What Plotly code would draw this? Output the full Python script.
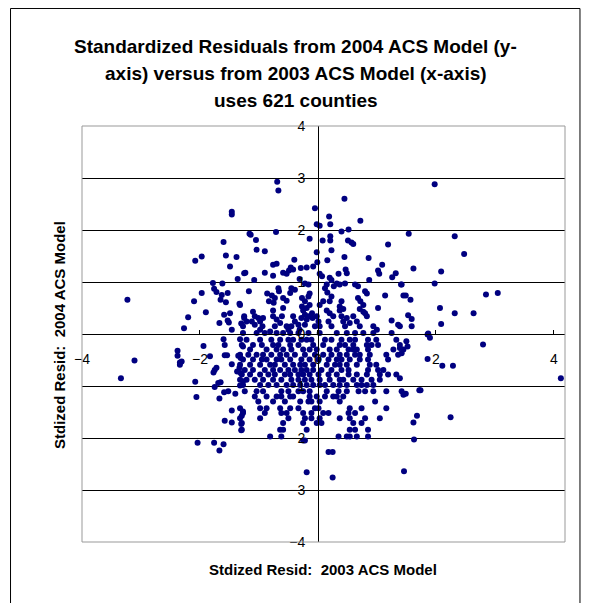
import plotly.graph_objects as go

title_lines = [
    "Standardized Residuals from 2004 ACS Model (y-",
    "axis) versus from 2003 ACS Model (x-axis)",
    "uses 621 counties",
]
x_title = "Stdized Resid:  2003 ACS Model"
y_title = "Stdized Resid:  2004 ACS Model"

x_ticks = [-4, -2, 0, 2, 4]
y_ticks = [4, 3, 2, 1, 0, -1, -2, -3, -4]

# (2003 resid, 2004 resid) pairs, by region
upper_left = [
    (-1.46, 2.35), (-1.46, 2.30), (-1.60, 1.77), (-2.08, 1.41), (-1.97, 1.49), (-1.56, 1.51),
    (-1.38, 1.48), (-1.49, 1.30), (-1.25, 1.17), (-1.36, 1.06), (-1.78, 0.98), (-1.62, 0.97),
    (-1.76, 0.87), (-1.72, 0.81), (-1.53, 0.79), (-1.63, 0.75), (-1.65, 0.66), (-1.97, 0.79),
    (-2.10, 0.63), (-1.56, 0.61), (-1.33, 0.58), (-3.23, 0.66), (-1.90, 0.42), (-1.59, 0.37),
    (-1.49, 0.40), (-2.20, 0.32), (-1.67, 0.21), (-1.53, 0.26), (-1.51, 0.22), (-2.27, 0.11),
    (-1.46, 0.08), (-1.30, 0.20), (-1.27, 0.15), (-1.25, 0.31),
]

upper_centre = [
    (-0.69, 2.93), (-0.67, 2.76), (0.45, 2.60), (-0.05, 2.42), (0.19, 2.26), (0.72, 2.18),
    (-0.02, 2.11), (0.03, 2.08), (0.21, 2.11), (-0.71, 1.96), (0.40, 1.97), (0.52, 2.01),
    (-1.16, 1.93), (-1.14, 1.91), (-1.05, 1.81), (-0.14, 1.83), (0.08, 1.80), (0.21, 1.88),
    (0.21, 1.80), (0.51, 1.80), (0.57, 1.76), (0.60, 1.73), (1.19, 1.72), (-1.04, 1.62),
    (-0.90, 1.59), (-0.02, 1.57), (0.23, 1.61), (0.45, 1.48), (0.86, 1.46), (-0.40, 1.43),
    (0.16, 1.42), (-0.01, 1.38), (1.09, 1.33), (-0.76, 1.33), (-0.70, 1.35), (-0.08, 1.30),
    (-0.29, 1.27), (-0.19, 1.28), (-0.46, 1.28), (-0.42, 1.24), (-0.49, 1.22), (-0.59, 1.18),
    (-0.53, 1.16), (-1.23, 1.18), (-0.90, 1.18), (-0.76, 1.12), (-1.08, 1.04), (-0.31, 1.06),
    (0.03, 1.16), (0.07, 1.11), (0.47, 1.24), (0.49, 1.17), (0.35, 1.16), (1.02, 1.22),
    (1.04, 1.16), (1.32, 1.17), (1.26, 1.09), (0.20, 1.08), (0.23, 1.04), (0.87, 1.04),
    (1.42, 0.95), (0.63, 0.95), (0.68, 0.92), (0.32, 0.97), (0.37, 0.95), (0.46, 0.97),
    (0.15, 0.95), (-0.22, 0.97), (-0.16, 0.95), (-1.17, 0.82), (-0.67, 0.88), (-0.66, 0.82),
    (-0.45, 0.88), (-0.39, 0.85), (-0.47, 0.79), (-0.14, 0.78), (-0.16, 0.72), (0.12, 0.88),
    (0.16, 0.80), (0.27, 0.92), (0.23, 0.72), (0.20, 0.63), (0.80, 0.82), (0.83, 0.78),
    (1.14, 0.74), (1.45, 0.74), (-0.86, 0.78), (-0.78, 0.74), (-0.73, 0.69), (-0.83, 0.63),
    (-0.75, 0.60), (-0.59, 0.69), (-0.53, 0.64), (-0.27, 0.69), (-0.22, 0.63), (-0.14, 0.56),
    (-0.19, 0.50), (-0.27, 0.53), (0.03, 0.56), (0.09, 0.63), (0.37, 0.53), (0.43, 0.48),
    (0.40, 0.63), (0.68, 0.69), (0.72, 0.63), (0.77, 0.56), (0.80, 0.40), (0.83, 0.34),
    (1.02, 0.50), (1.25, 0.26), (1.36, 0.18), (-1.32, 0.56), (-1.25, 0.34), (-1.21, 0.24),
    (-1.10, 0.43), (-1.07, 0.34), (-1.01, 0.31), (-0.98, 0.24), (-1.12, 0.24), (-1.07, 0.18),
    (-0.93, 0.31), (-0.94, 0.15), (-0.98, 0.08), (-0.76, 0.45), (-0.76, 0.34), (-0.70, 0.28),
    (-0.64, 0.21), (-0.73, 0.15), (-0.81, 0.05), (-0.59, 0.50), (-0.61, 0.34), (-0.53, 0.15),
    (-0.50, 0.08), (-0.42, 0.34), (-0.39, 0.24), (-0.33, 0.18), (-0.31, 0.08), (-0.45, 0.15),
    (-0.25, 0.45), (-0.22, 0.37), (-0.19, 0.28), (-0.22, 0.18), (-0.16, 0.34), (-0.28, 0.31),
    (-0.10, 0.40), (-0.09, 0.31), (-0.02, 0.34), (0.01, 0.24), (-0.05, 0.15), (0.03, 0.15),
    (0.15, 0.45), (0.20, 0.40), (0.18, 0.24), (0.26, 0.34), (0.23, 0.15), (0.37, 0.45),
    (0.40, 0.34), (0.43, 0.24), (0.49, 0.31), (0.54, 0.21), (0.46, 0.15), (0.60, 0.34),
    (0.66, 0.24), (0.71, 0.15), (0.94, 0.15), (1.00, 0.08), (0.71, 0.48), (0.77, 0.43),
]

upper_right = [
    (1.98, 2.88), (1.54, 1.93), (2.32, 1.88), (2.48, 1.54), (1.62, 1.26), (2.09, 1.20),
    (1.41, 0.95), (1.98, 0.97), (1.49, 0.74), (1.57, 0.66), (2.85, 0.76), (3.05, 0.79),
    (2.07, 0.50), (2.32, 0.40), (2.64, 0.40), (1.53, 0.36), (1.59, 0.29), (2.09, 0.19),
    (1.59, 0.15), (1.39, 0.15), (1.87, 0.01),
]

lower_left = [
    (-3.34, -0.85), (-3.11, -0.51), (-2.38, -0.32), (-2.38, -0.42), (-2.34, -0.55), (-2.31, -0.53),
    (-2.34, -0.59), (-1.94, -0.23), (-1.83, -0.43), (-2.08, -0.92), (-2.06, -1.21), (-1.60, -0.10),
    (-1.58, -0.21), (-1.58, -0.41), (-1.54, -0.41), (-1.75, -0.69), (-1.72, -0.65), (-1.77, -0.74),
    (-1.46, -0.58), (-1.35, -0.42), (-1.31, -0.46), (-1.27, -0.24), (-1.32, -0.10), (-1.37, -0.72),
    (-1.31, -0.75), (-1.33, -0.65), (-1.27, -0.91), (-1.75, -1.02), (-1.69, -0.94), (-1.65, -0.93),
    (-1.59, -1.12), (-1.52, -1.10), (-1.67, -1.24), (-1.40, -1.15), (-1.32, -0.99), (-1.46, -1.47),
    (-1.58, -1.67), (-1.46, -1.70), (-1.29, -1.57), (-1.27, -1.49), (-1.30, -1.73), (-1.30, -1.85),
    (-2.04, -2.09), (-1.76, -2.09), (-1.60, -2.12), (-1.67, -2.24),
]

lower_right = [
    (2.80, -0.20), (1.86, -0.01), (1.90, -0.07), (1.86, -0.48), (2.11, -0.61), (2.29, -0.61),
    (4.12, -0.85), (1.50, -0.14), (1.52, -0.24), (1.45, -0.30), (1.42, -0.37), (1.39, -0.27),
    (1.39, -0.85), (1.45, -1.17), (1.49, -1.15), (1.74, -1.08), (1.72, -1.08), (1.68, -1.57),
    (1.62, -1.70), (2.25, -1.60), (1.63, -2.03), (1.46, -2.64),
]

# dense centre below zero: 2004 resid, then the 2003 resids in that band
lower_centre = [
    (0.02, [-1.27, -1.04, -0.90, -0.70, -0.59, -0.47, -0.33, -0.16, 0.03, 0.32, 0.49, 0.63, 0.77, 0.94, 1.25]),
    (-0.11, [-1.21, -0.98, -0.79, -0.64, -0.50, -0.42, -0.28, -0.19, -0.11, 0.12, 0.23, 0.40, 0.54, 0.63, 0.85, 0.99, 1.33]),
    (-0.21, [-1.29, -1.10, -0.95, -0.76, -0.67, -0.47, -0.33, -0.08, 0.09, 0.37, 0.46, 0.60, 0.83, 0.91, 1.02, 1.39]),
    (-0.30, [-1.15, -0.87, -0.70, -0.59, -0.45, -0.25, -0.14, -0.02, 0.20, 0.32, 0.52, 0.60, 0.66, 0.85, 1.28]),
    (-0.40, [-1.32, -1.18, -1.04, -0.93, -0.79, -0.64, -0.53, -0.39, -0.22, -0.05, 0.09, 0.23, 0.37, 0.49, 0.63, 0.71, 0.88, 1.16, 1.36]),
    (-0.49, [-1.27, -1.10, -0.95, -0.87, -0.70, -0.62, -0.47, -0.28, -0.14, 0.01, 0.18, 0.32, 0.40, 0.54, 0.71, 0.85, 1.19]),
    (-0.59, [-1.32, -1.15, -0.98, -0.81, -0.73, -0.56, -0.42, -0.30, -0.22, -0.08, 0.15, 0.29, 0.37, 0.49, 0.66, 0.88, 0.99]),
    (-0.69, [-1.24, -1.10, -0.90, -0.76, -0.64, -0.50, -0.39, -0.28, -0.19, -0.08, 0.06, 0.23, 0.40, 0.52, 0.85, 1.02, 1.11]),
    (-0.78, [-1.29, -1.15, -0.98, -0.84, -0.73, -0.56, -0.47, -0.33, -0.25, -0.14, 0.01, 0.18, 0.32, 0.52, 0.66, 0.83, 1.05, 1.19, 1.33]),
    (-0.88, [-1.32, -1.21, -1.07, -0.93, -0.76, -0.62, -0.45, -0.33, -0.22, -0.11, 0.03, 0.20, 0.37, 0.43, 0.60, 0.74, 0.91, 1.05]),
    (-0.98, [-1.27, -0.98, -0.84, -0.70, -0.53, -0.42, -0.30, -0.19, -0.08, 0.03, 0.12, 0.26, 0.37, 0.49, 0.66, 0.74, 0.83, 0.94]),
    (-1.10, [-1.24, -1.04, -0.93, -0.62, -0.50, -0.33, -0.25, -0.14, 0.15, 0.35, 0.49, 0.69, 0.80, 0.94, 1.16, 1.42]),
    (-1.20, [-1.07, -0.87, -0.70, -0.62, -0.47, -0.42, -0.14, -0.02, 0.12, 0.26, 0.32, 0.43]),
    (-1.30, [-1.01, -0.76, -0.56, -0.30, -0.16, -0.11, 0.03, 0.37, 0.97]),
    (-1.43, [-1.32, -0.98, -0.87, -0.64, -0.47, -0.33, -0.05, 0.01, 0.54, 0.74, 1.16]),
    (-1.52, [-1.27, -0.90, -0.62, -0.53, -0.25, -0.11, 0.09, 0.18, 0.52, 0.63]),
    (-1.62, [-1.32, -0.98, -0.50, -0.22, -0.11, 0.03, 0.37, 0.54, 0.80, 1.05]),
    (-1.71, [-1.29, -0.59, -0.25, -0.02, 0.06, 0.60, 0.74]),
    (-1.84, [-1.29, -0.64, -0.59, -0.19, 0.54, 0.63, 0.85]),
    (-1.97, [-0.81, -0.62, 0.35, 0.49, 0.54, 0.66, 0.85]),
    (-2.05, [-0.25, -0.22]),
    (-2.27, [0.18, 0.25]),
    (-2.66, [-0.19]),
    (-2.76, [0.25]),
]

points = upper_left + upper_centre + upper_right + lower_left + lower_right
for y, xs in lower_centre:
    points += [(x, y) for x in xs]
resid_2003 = [p[0] for p in points]
resid_2004 = [p[1] for p in points]

FONT = "Liberation Sans, Arial, sans-serif"

fig = go.Figure(go.Scatter(
    x=resid_2003, y=resid_2004, mode="markers",
    marker=dict(symbol="circle", size=6, color="#000080"),
    hovertemplate="2003: %{x:.2f}<br>2004: %{y:.2f}<extra></extra>"))

# the page body adds an 8px offset, so the figure is 8px smaller than the window
fig.update_layout(
    width=582, height=595,
    margin=dict(l=74, r=25, t=118, b=61),
    paper_bgcolor="white", plot_bgcolor="white",
    showlegend=False,
    font=dict(family=FONT, size=14, color="black"),
    xaxis=dict(range=[-4, 4.19], tickvals=x_ticks, ticks="inside", ticklen=4,
               tickcolor="black", showgrid=False, zeroline=False,
               showline=True, linecolor="black", linewidth=1,
               anchor="free", position=0.5, ticklabelstandoff=12),
    yaxis=dict(range=[-4, 4], tickvals=y_ticks, ticks="inside", ticklen=4,
               tickcolor="black", showgrid=True, gridcolor="black", gridwidth=1,
               zeroline=False, showline=True, linecolor="black", linewidth=1,
               anchor="free", position=0.4886, ticklabelstandoff=10),
)

# plot area border and outer chart frame
fig.add_shape(type="rect", xref="paper", yref="paper", x0=0, x1=1, y0=0, y1=1,
              line=dict(color="#999999", width=1), layer="above")
fig.add_shape(type="rect", xref="paper", yref="paper", x0=-0.148, x1=1.031, y0=-0.2, y1=1.2825,
              line=dict(color="black", width=1))

title_y = [1.192, 1.127, 1.0625]
for line, ty in zip(title_lines, title_y):
    fig.add_annotation(text=f"<b>{line}</b>", xref="paper", yref="paper", x=0.443, y=ty,
                       showarrow=False, xanchor="center", yanchor="middle",
                       font=dict(family=FONT, size=19, color="black"))

fig.add_annotation(text=f"<b>{x_title}</b>", xref="paper", yref="paper", x=0.499, y=-0.067,
                   showarrow=False, xanchor="center", yanchor="middle",
                   font=dict(family=FONT, size=15, color="black"))
fig.add_annotation(text=f"<b>{y_title}</b>", xref="paper", yref="paper", x=-0.0455, y=0.4976,
                   showarrow=False, xanchor="center", yanchor="middle", textangle=-90,
                   font=dict(family=FONT, size=15, color="black"))

fig.write_html("out.html")
